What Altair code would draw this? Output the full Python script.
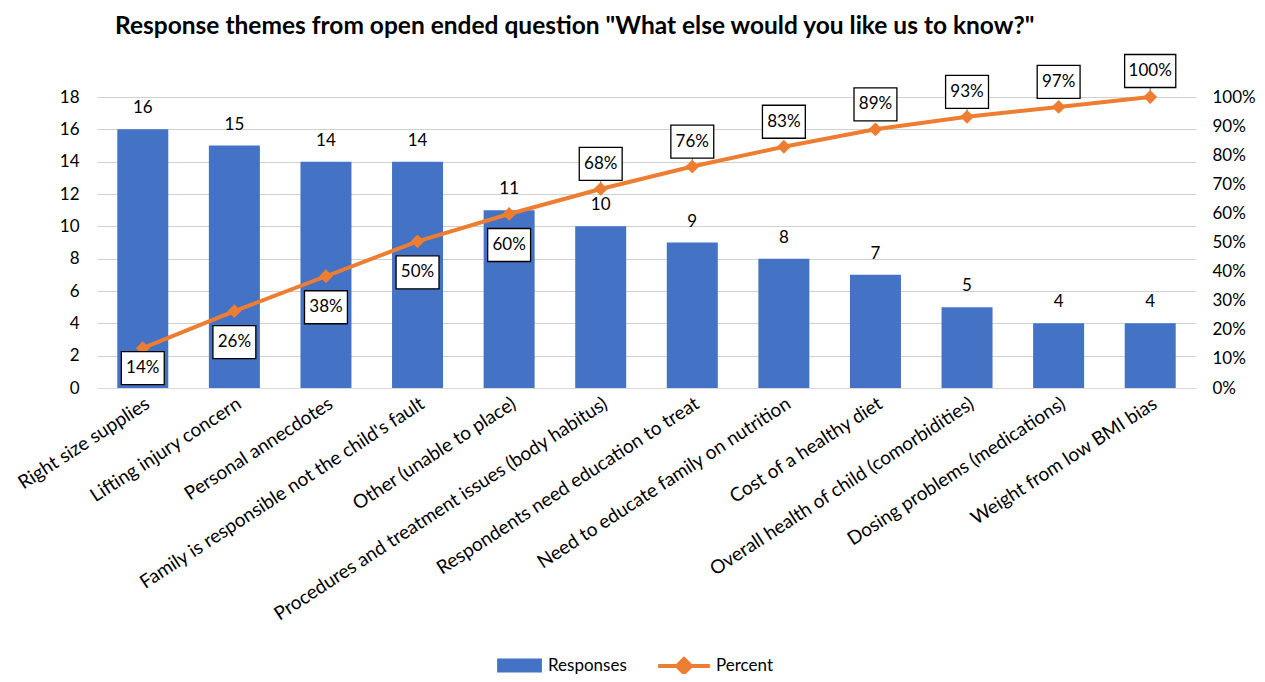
import altair as alt
import pandas as pd

categories = [
    "Right size supplies",
    "Lifting injury concern",
    "Personal annecdotes",
    "Family is responsible not the child's fault",
    "Other (unable to place)",
    "Procedures and treatment issues (body habitus)",
    "Respondents need education to treat",
    "Need to educate family on nutrition",
    "Cost of a healthy diet",
    "Overall health of child (comorbidities)",
    "Dosing problems (medications)",
    "Weight from low BMI bias",
]
responses = [16, 15, 14, 14, 11, 10, 9, 8, 7, 5, 4, 4]
percent = [0.137, 0.264, 0.384, 0.504, 0.598, 0.684, 0.761, 0.829, 0.889, 0.932, 0.966, 1.0]
left_ticks = [0, 2, 4, 6, 8, 10, 12, 14, 16, 18]
right_ticks = [0, 0.1, 0.2, 0.3, 0.4, 0.5, 0.6, 0.7, 0.8, 0.9, 1.0]

df = pd.DataFrame({
    "cat": categories,
    "resp": responses,
    "pct": percent,
    "idx": list(range(len(categories))),
})

FONT = "Lato"
BLUE = "#4472C4"
ORANGE = "#ED7D31"

x_enc = alt.X(
    "cat:N", sort=categories,
    scale=alt.Scale(paddingInner=0.44, paddingOuter=0.22),
    axis=alt.Axis(labelAngle=-33, labelFontSize=19, ticks=False, domainColor="#D9D9D9",
                  labelPadding=6, title=None, labelLimit=0, labelColor="#000000", labelFont=FONT),
)

yl = alt.Y("resp:Q", scale=alt.Scale(domain=[0, 18], nice=False),
           axis=alt.Axis(values=left_ticks, title=None, ticks=False, domain=False,
                         gridColor="#D0D0D0", labelFontSize=17, labelPadding=18,
                         labelColor="#000000", labelFont=FONT))
yr = alt.Y("pct:Q", scale=alt.Scale(domain=[0, 1], nice=False),
           axis=alt.Axis(values=right_ticks, format=".0%", orient="right", title=None, ticks=False,
                         domain=False, grid=False, labelFontSize=17, labelPadding=16,
                         labelColor="#000000", labelFont=FONT))

base = alt.Chart(df)

bars = base.mark_bar(size=51).encode(
    x=x_enc, y=yl,
    fill=alt.Fill("s:N", scale=alt.Scale(domain=["Responses"], range=[BLUE]),
                  legend=alt.Legend(orient="none", legendX=414, legendY=560, title=None,
                                    symbolType="M-3.2,-1H3.2V1H-3.2Z", symbolSize=196,
                                    labelFontSize=17, labelOffset=20, labelFont=FONT,
                                    labelColor="#000000", symbolStrokeWidth=0)),
).transform_calculate(s="'Responses'")

bar_text = base.mark_text(fontSize=17, font=FONT, color="#000000", baseline="middle", dy=-21).encode(
    x=x_enc, y=yl,
    text="resp:Q",
)

left = alt.layer(bars, bar_text)

line = base.mark_line(strokeWidth=4).encode(
    x=x_enc, y=yr,
    stroke=alt.Stroke("s:N", scale=alt.Scale(domain=["Percent"], range=[ORANGE]),
                      legend=alt.Legend(orient="none", legendX=578, legendY=560, title=None,
                                        symbolType="M-3.7,0H3.7M0,-1L1,0L0,1L-1,0Z",
                                        symbolSize=196, symbolStrokeWidth=4,
                                        symbolFillColor=ORANGE, labelFontSize=17,
                                        labelOffset=23, labelFont=FONT, labelColor="#000000")),
).transform_calculate(s="'Percent'")

points = base.mark_point(shape="diamond", filled=True, size=190, color=ORANGE, opacity=1).encode(
    x=x_enc, y=yr,
)

leaders = base.mark_rule(color="#808080", strokeWidth=1, yOffset=-6, y2Offset=-10).encode(
    x=x_enc, y=yr, y2="pct:Q",
).transform_filter("datum.idx == 5 || datum.idx == 6 || datum.idx == 9 || datum.idx == 11")

def box_layer(filt, off, half_w):
    path = f"M-{half_w},-1H{half_w}V1H-{half_w}Z"
    box = base.mark_point(shape=path, size=1089, fill="#FFFFFF", filled=True, stroke="#000000",
                          strokeWidth=1.3, opacity=1, fillOpacity=1, yOffset=off).encode(
        x=x_enc, y=yr,
    ).transform_filter(filt)
    txt = base.mark_text(fontSize=17, font=FONT, color="#000000", baseline="middle", yOffset=off).encode(
        x=x_enc, y=yr, text=alt.Text("pct:Q", format=".0%"),
    ).transform_filter(filt)
    return [box, txt]

layers = [line, points, leaders]
layers += box_layer("datum.idx == 0", 20, 1.3)
layers += box_layer("datum.idx >= 1 && datum.idx <= 4", 31, 1.3)
layers += box_layer("datum.idx >= 5 && datum.idx <= 10", -25, 1.3)
layers += box_layer("datum.idx == 11", -26, 1.55)

right = alt.layer(*layers)

chart = alt.layer(left, right).resolve_scale(y="independent", fill="independent", stroke="independent").properties(
    width=1099, height=291,
    autosize=alt.AutoSizeParams(type="none"),
    padding={"left": 89, "top": 89, "right": 60, "bottom": 286},
    title=alt.TitleParams(
        'Response themes from open ended question "What else would you like us to know?"',
        anchor="start", frame="group", dx=18, offset=12, fontSize=24.5, font=FONT,
        fontWeight="bold", color="#000000",
    ),
).configure_view(stroke=None)

chart.save("out.html", embed_options={"renderer": "svg", "actions": False})
